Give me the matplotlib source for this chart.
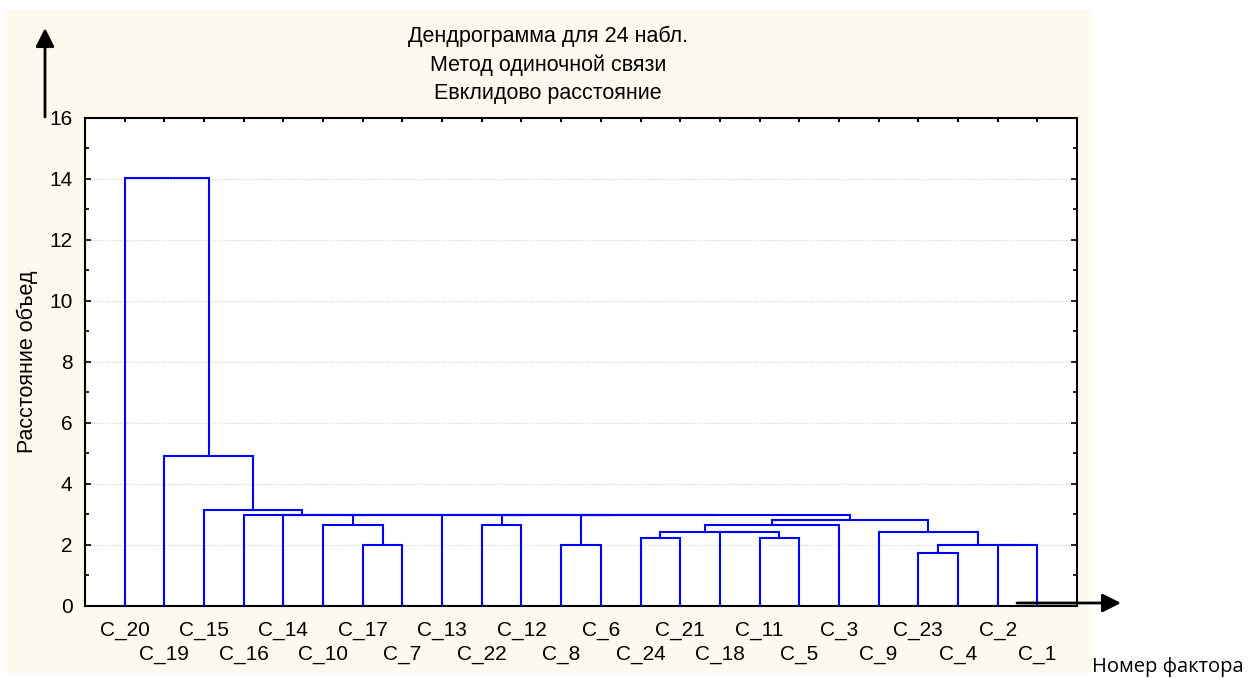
"""Single-linkage dendrogram (Statistica style) for 24 observations."""
import matplotlib
matplotlib.use("Agg")
import matplotlib.pyplot as plt
from matplotlib.patches import Rectangle, FancyArrowPatch

plt.rcParams["font.family"] = ["Liberation Sans", "DejaVu Sans"]

# leaves in display order, left to right
leaf_labels = [
    "C_20", "C_19", "C_15", "C_16", "C_14", "C_10", "C_17", "C_7",
    "C_13", "C_22", "C_12", "C_8", "C_6", "C_24", "C_21", "C_18",
    "C_11", "C_5", "C_3", "C_9", "C_23", "C_4", "C_2", "C_1",
]

# merges, scipy-like: node ids 0..23 are leaves, merge k creates node 24 + k
merge_left = [20, 6, 11, 22, 24, 13, 16, 15, 29, 19, 5, 9, 32, 36, 26, 35, 8, 34, 4, 3, 2, 1, 0]
merge_right = [21, 7, 12, 23, 27, 14, 17, 30, 31, 28, 25, 10, 18, 33, 37, 38, 39, 40, 41, 42, 43, 44, 45]
merge_height = [1.73, 2.0, 2.0, 2.0, 2.0, 2.22, 2.22, 2.44, 2.44, 2.44, 2.64, 2.64, 2.64,
                2.82, 2.99, 2.99, 2.99, 2.99, 2.99, 2.99, 3.15, 4.91, 14.03]

title_lines = ["Дендрограмма для 24 набл.", "Метод одиночной связи", "Евклидово расстояние"]

n = len(leaf_labels)
node_x = {i: i + 1 for i in range(n)}
node_h = {i: 0.0 for i in range(n)}

fig = plt.figure(figsize=(12.48, 6.78), dpi=100)
fig.patch.set_facecolor("white")
fig.add_artist(Rectangle((5 / 1248, 5 / 678), 1086 / 1248, 663 / 678,
                         transform=fig.transFigure, facecolor="#fdf9ee",
                         edgecolor="none", zorder=0))

ax = fig.add_axes([0.0681, 0.1062, 0.7949, 0.7198])
ax.set_facecolor("white")

for k, (a, b, h) in enumerate(zip(merge_left, merge_right, merge_height)):
    xa, xb = node_x[a], node_x[b]
    ax.plot([xa, xa, xb, xb], [node_h[a], h, h, node_h[b]],
            color="#0000ff", lw=1.5, solid_joinstyle="miter", zorder=3)
    node_x[n + k] = (xa + xb) / 2
    node_h[n + k] = h

ax.set_xlim(0, n + 1)
ax.set_ylim(0, 16)
ax.set_yticks(range(0, 17, 2))
ax.set_yticks(range(1, 16, 2), minor=True)
# labels alternate between two rows: major ticks = first row, minor = second row
ax.set_xticks(range(1, n + 1, 2))
ax.set_xticklabels(leaf_labels[0::2])
ax.set_xticks(range(2, n + 1, 2), minor=True)
ax.set_xticklabels(leaf_labels[1::2], minor=True)
ax.tick_params(axis="both", which="both", direction="in", color="black",
               top=True, right=True)
ax.tick_params(axis="y", which="major", length=4, width=1.2, labelsize=15, pad=9)
ax.tick_params(axis="y", which="minor", length=3, width=1.2)
ax.tick_params(axis="x", which="major", length=3, width=1.5, labelsize=15, pad=11)
ax.tick_params(axis="x", which="minor", length=3, width=1.5, labelsize=15, pad=28)
ax.yaxis.grid(True, which="major", color="#cfcfcf", linestyle=":", linewidth=0.8)
ax.set_axisbelow(True)
for sp in ax.spines.values():
    sp.set_linewidth(1.5)
    sp.set_color("black")

ax.set_ylabel("Расстояние объед", fontsize=15.5)
ax.yaxis.set_label_coords(-0.0474, 0.5)

for i, line in enumerate(title_lines):
    fig.text(548 / 1248, 1 - (36 + 29 * i) / 678, line, ha="center", va="center", fontsize=15.5)

# axis arrows
fig.add_artist(FancyArrowPatch((45 / 1248, 1 - 117 / 678), (45 / 1248, 1 - 28 / 678),
                               transform=fig.transFigure,
                               arrowstyle="-|>,head_length=0.8,head_width=0.4",
                               mutation_scale=14, lw=2, color="black",
                               shrinkA=0, shrinkB=0, zorder=5))
fig.add_artist(FancyArrowPatch((1017 / 1248, 1 - 603 / 678), (1121 / 1248, 1 - 603 / 678),
                               transform=fig.transFigure,
                               arrowstyle="-|>,head_length=0.8,head_width=0.4",
                               mutation_scale=14, lw=2, color="black",
                               shrinkA=0, shrinkB=0, zorder=5))
fig.text(1092 / 1248, 1 - 667 / 678, "Номер фактора", ha="left", va="center",
         fontsize=14.5, family=["Open Sans", "DejaVu Sans"])

fig.savefig("out.png", dpi=100)
